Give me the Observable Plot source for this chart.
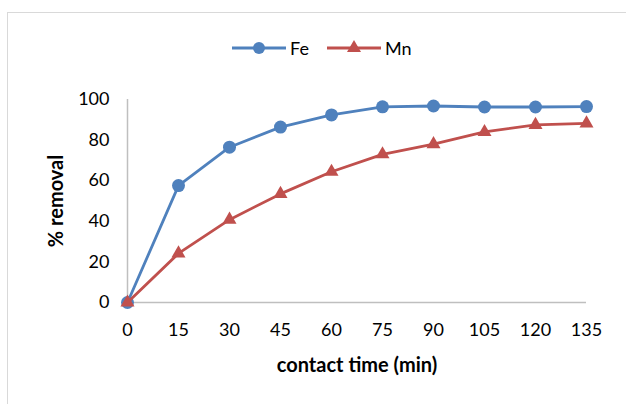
<!DOCTYPE html>
<html>
<head>
<meta charset="utf-8">
<script src="https://cdn.jsdelivr.net/npm/d3@7"></script>
<script src="https://cdn.jsdelivr.net/npm/@observablehq/plot@0.6"></script>
<style>
  html, body { margin: 0; padding: 0; background: #fff; }
  #wrap { position: relative; width: 626px; height: 404px; overflow: hidden; font-family: Lato, "Open Sans", sans-serif; }
  #frame { position: absolute; left: 7px; top: 12px; width: 800px; height: 600px; border: 1px solid #d9d9d9; box-sizing: border-box; }
  #chart { position: absolute; left: 0; top: 0; }
  #legend { position: absolute; left: 0; top: 36px; width: 626px; height: 24px; }
  .item { position: absolute; top: 0; display: flex; align-items: center; height: 24px; font-size: 18px; color: #000; }
  .item svg { display: block; margin-right: 4px; }
</style>
</head>
<body>
<div id="wrap">
  <div id="frame"></div>
  <div id="chart"></div>
  <div id="legend"></div>
</div>
<script>
const times = [0, 15, 30, 45, 60, 75, 90, 105, 120, 135];
const feRemoval = [0, 57.6, 76.5, 86.4, 92.4, 96.4, 96.8, 96.3, 96.3, 96.5];
const mnRemoval = [0, 24.2, 40.8, 53.5, 64.4, 73.0, 78.0, 84.0, 87.5, 88.2];
const yTicks = [0, 20, 40, 60, 80, 100];
const seriesNames = ["Fe", "Mn"];
const seriesColors = ["#4F81BD", "#C0504D"];
const xTitle = "contact time (min)";
const yTitle = "% removal";

const rows = [];
times.forEach((t, i) => {
  rows.push({time: t, value: feRemoval[i], series: seriesNames[0]});
  rows.push({time: t, value: mnRemoval[i], series: seriesNames[1]});
});
const fe = rows.filter(d => d.series === "Fe");
const mn = rows.filter(d => d.series === "Mn");

const chart = Plot.plot({
  width: 626,
  height: 404,
  marginLeft: 127,
  marginRight: 40,
  marginTop: 99,
  marginBottom: 102,
  style: {fontFamily: "Lato, 'Open Sans', sans-serif", fontSize: "18px", color: "#000", background: "transparent"},
  x: {domain: [0, 135]},
  y: {domain: [0, 100]},
  marks: [
    Plot.axisX({ticks: times, tickSize: 0, tickPadding: 21, label: null, tickFormat: d => String(d)}),
    Plot.axisY({ticks: yTicks, tickSize: 0, tickPadding: 18, label: null, tickFormat: d => String(d)}),
    Plot.ruleY([0], {stroke: "#bfbfbf", strokeWidth: 1.5}),
    Plot.ruleX([0], {stroke: "#bfbfbf", strokeWidth: 1.5}),
    Plot.line(fe, {x: "time", y: "value", stroke: seriesColors[0], strokeWidth: 2.8}),
    Plot.dot(fe, {x: "time", y: "value", fill: seriesColors[0], r: 6.5, symbol: "circle"}),
    Plot.line(mn, {x: "time", y: "value", stroke: seriesColors[1], strokeWidth: 2.8}),
    Plot.dot(mn, {x: "time", y: "value", fill: seriesColors[1], r: 5.2, symbol: "triangle"}),
    Plot.text([xTitle], {frameAnchor: "bottom", dy: 63, textAnchor: "middle", lineAnchor: "middle", fontWeight: "bold", fontSize: 20, fill: "#000"}),
    Plot.text([yTitle], {frameAnchor: "left", dx: -71, rotate: -90, textAnchor: "middle", lineAnchor: "middle", fontWeight: "bold", fontSize: 20, fill: "#000"})
  ]
});
document.getElementById("chart").appendChild(chart);

// legend
const legend = document.getElementById("legend");
const lefts = [232, 327];
seriesNames.forEach((name, i) => {
  const item = document.createElement("div");
  item.className = "item";
  item.style.left = lefts[i] + "px";
  const ns = "http://www.w3.org/2000/svg";
  const svg = document.createElementNS(ns, "svg");
  svg.setAttribute("width", 54);
  svg.setAttribute("height", 24);
  const line = document.createElementNS(ns, "line");
  line.setAttribute("x1", 0); line.setAttribute("x2", 54);
  line.setAttribute("y1", 12); line.setAttribute("y2", 12);
  line.setAttribute("stroke", seriesColors[i]);
  line.setAttribute("stroke-width", 2.8);
  svg.appendChild(line);
  const sym = document.createElementNS(ns, "path");
  const s = d3.symbol(i === 0 ? d3.symbolCircle : d3.symbolTriangle, i === 0 ? Math.PI * 6 * 6 : Math.PI * 5.2 * 5.2)();
  sym.setAttribute("d", s);
  sym.setAttribute("transform", "translate(27,12)");
  sym.setAttribute("fill", seriesColors[i]);
  svg.appendChild(sym);
  item.appendChild(svg);
  const label = document.createElement("span");
  label.textContent = name;
  item.appendChild(label);
  legend.appendChild(item);
});
</script>
</body>
</html>
